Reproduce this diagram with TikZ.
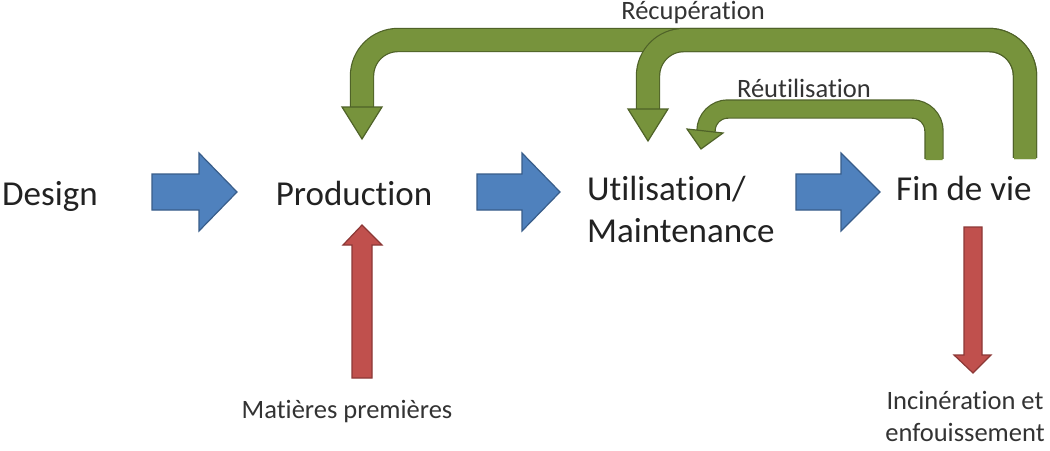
\documentclass[tikz,border=0pt]{standalone}
\usepackage{fontspec}
\setmainfont[Ligatures=CommonOff]{Carlito}
\definecolor{gfill}{HTML}{77933C}
\definecolor{gline}{HTML}{4F6228}
\definecolor{bfill}{HTML}{4F81BD}
\definecolor{bline}{HTML}{385D8A}
\definecolor{rfill}{HTML}{C0504D}
\definecolor{rline}{HTML}{8C3836}
\definecolor{txt}{HTML}{222222}
\definecolor{txts}{HTML}{333333}
\tikzset{
  bigtext/.style={font=\fontsize{35}{42}\selectfont, text=txt, inner sep=0pt},
  smalltext/.style={font=\fontsize{26.5}{32}\selectfont, text=txts, inner sep=0pt},
  bluearrow/.style={fill=bfill, draw=bline, line width=1.2pt, line join=miter},
  redarrow/.style={fill=rfill, draw=rline, line width=1.2pt, line join=miter},
  greenhead/.style={fill=gfill, draw=gline, line width=1.2pt, line join=miter},
  gshaftout/.style={draw=gline, line width=#1+2.4pt},
  gshaftin/.style={draw=gfill, line width=#1},
}
\begin{document}
\begin{tikzpicture}[x=1pt,y=-1pt]
\useasboundingbox[fill=white] (0,0) rectangle (1050,450);

% text nodes
\node[bigtext, anchor=base west] (design) at (2,205) {Design};
\node[bigtext, anchor=base] (prod) at (354,205) {Production};
\node[bigtext, anchor=base west] (util) at (587,200) {Utilisation/};
\node[bigtext, anchor=base west] (maint) at (587,242) {Maintenance};
\node[bigtext, anchor=base west] (fin) at (896,200) {Fin de vie};
\node[smalltext, anchor=base] (recup) at (693,19) {Récupération};
\node[smalltext, anchor=base] (reuti) at (804,97) {Réutilisation};
\node[smalltext, anchor=base] (mat) at (347,418) {Matières premières};
\node[smalltext, anchor=base] (inc1) at (965,409) {Incinération et};
\node[smalltext, anchor=base] (inc2) at (965,441) {enfouissement};

% blue block arrows
\draw[bluearrow] (152,174)--(199,174)--(199,153)--(237,192)--(199,231)--(199,210)--(152,210)--cycle;
\draw[bluearrow] (477,174)--(522,174)--(522,153)--(560,192)--(522,231)--(522,210)--(477,210)--cycle;
\draw[bluearrow] (796,174)--(841,174)--(841,153)--(880,192)--(841,231)--(841,210)--(796,210)--cycle;

% red block arrows
\draw[redarrow] (352,378)--(352,245)--(343,245)--(362,225)--(382,245)--(372,245)--(372,378)--cycle;
\draw[redarrow] (964,227)--(982,227)--(982,355)--(991,355)--(973,373)--(954,355)--(964,355)--cycle;

% green arrows: Recuperation (to Production)
\coordinate (rstart) at (1025,159);
\coordinate (rtop) at (1025,40);
\coordinate (pa) at (362,40);
\coordinate (pb) at (362,109);
\coordinate (ua) at (648,40);
\coordinate (ub) at (648,111);
\draw[gshaftout=22pt, rounded corners=36pt] ([yshift=1.2pt]rstart) -- (rtop) -- (pa) -- (pb);
\draw[gshaftin=22pt, rounded corners=36pt] (rstart) -- (rtop) -- (pa) -- (pb);
\draw[greenhead] (342,107) -- (382,107) -- (362,139) -- cycle;
% Recuperation (to Utilisation)
\draw[gshaftout=22pt, rounded corners=36pt] ([yshift=1.2pt]rstart) -- (rtop) -- (ua) -- (ub);
\draw[gshaftin=22pt, rounded corners=36pt] (rstart) -- (rtop) -- (ua) -- (ub);
\draw[greenhead] (628,109) -- (668,109) -- (648,141) -- cycle;

% Reutilisation
\coordinate (sa) at (934,160);
\coordinate (sb) at (934,109);
\coordinate (sc) at (706,109);
\coordinate (sd) at (706,133);
\draw[gshaftout=17pt, rounded corners=22pt] ([yshift=1.2pt]sa) -- (sb) -- (sc) -- (sd);
\draw[gshaftin=17pt, rounded corners=22pt] (sa) -- (sb) -- (sc) -- (sd);
\draw[greenhead] (687,129) -- (723,133) -- (701,149) -- cycle;
\end{tikzpicture}
\end{document}
